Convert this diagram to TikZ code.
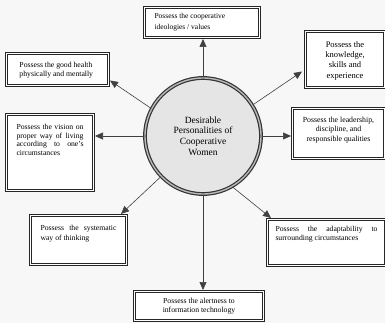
\documentclass[tikz,border=0pt]{standalone}
\usepackage{fontspec}
\setmainfont{Liberation Serif}
\usetikzlibrary{arrows.meta,calc}
\newcommand\bxt[4]{\parbox[c][#1][t]{#2}{\vspace*{#3}#4}}
\newcommand\fsz[2]{\fontsize{#1}{#2}\selectfont}
\begin{document}
\begin{tikzpicture}[x=1pt,y=-1pt,
  box/.style={draw=black!85, line width=1pt, double=white, double distance=1.1pt,
    fill=white, anchor=north west, inner ysep=0pt, outer sep=1.5pt},
  circ/.style={circle, minimum size=116pt, inner sep=0pt, draw=black!80, line width=1.2pt,
    double=gray!55, double distance=1.4pt, fill=gray!20},
  arr/.style={draw=black!75, line width=0.6pt, -{Triangle[length=8pt,width=7pt]}},
]
\path[fill=black!3] (0,0) rectangle (385,323);
\useasboundingbox (0,0) rectangle (385,323);

\node[box, inner xsep=10pt] (top) at (143,6)
  {\bxt{30pt}{95pt}{6pt}{\fsz{7.5}{11}\raggedright Possess the cooperative\\ ideologies / values}};
\node[box, inner xsep=13pt] (gh) at (5,52)
  {\bxt{32pt}{76pt}{8.5pt}{\fsz{7.7}{9}\raggedright Possess the good health\\ physically and mentally}};
\node[box, inner xsep=10pt] (vision) at (5,113)
  {\bxt{76pt}{67pt}{9.5pt}{\fsz{7.7}{8.8}Possess the vision on\linebreak proper way of living\linebreak according to one's\linebreak circumstances}};
\node[box, inner xsep=4pt] (know) at (304,30)
  {\bxt{56pt}{71pt}{10pt}{\fsz{8.5}{10.3}\centering Possess the\\ knowledge,\\ skills and\\ experience}};
\node[box, inner xsep=4pt] (lead) at (291,107)
  {\bxt{50pt}{84pt}{8.7pt}{\fsz{7.8}{9.3}\centering Possess the leadership,\\ discipline, and\\ responsible qualities}};
\node[box, inner xsep=10pt] (sys) at (29,214)
  {\bxt{49pt}{76pt}{9.7pt}{\fsz{7.7}{10}Possess the systematic\linebreak way of thinking}};
\node[box, inner xsep=8pt] (adapt) at (266,218)
  {\bxt{46pt}{102pt}{6.8pt}{\fsz{7.7}{9}Possess the adaptability to\linebreak surrounding circumstances}};
\node[box, inner xsep=6pt] (alert) at (133,290)
  {\bxt{29pt}{117pt}{7pt}{\fsz{7.7}{9}\centering Possess the alertness to\\ information technology}};

\node[circ] (c) at (203,136)
  {\raisebox{-1pt}{\parbox{90pt}{\centering\fsz{9.5}{10.8}Desirable\\ Personalities of\\ Cooperative\\ Women}}};

\draw[arr] (c.north) -- (c.north |- top.south);
\draw[arr] (c.152) -- ($(gh.east)+(0,11)$);
\draw[arr] (c.32) -- ($(know.west)+(-2,12)$);
\draw[arr] (c.west) -- (c.west -| vision.east);
\draw[arr] (c.east) -- (c.east -| lead.west);
\draw[arr] (c.224) -- ($(sys.north east)+(-7,0)$);
\draw[arr] (c.-60) -- ($(adapt.north west)+(5,0)$);
\draw[arr] (c.south) -- (c.south |- alert.north);
\end{tikzpicture}
\end{document}
